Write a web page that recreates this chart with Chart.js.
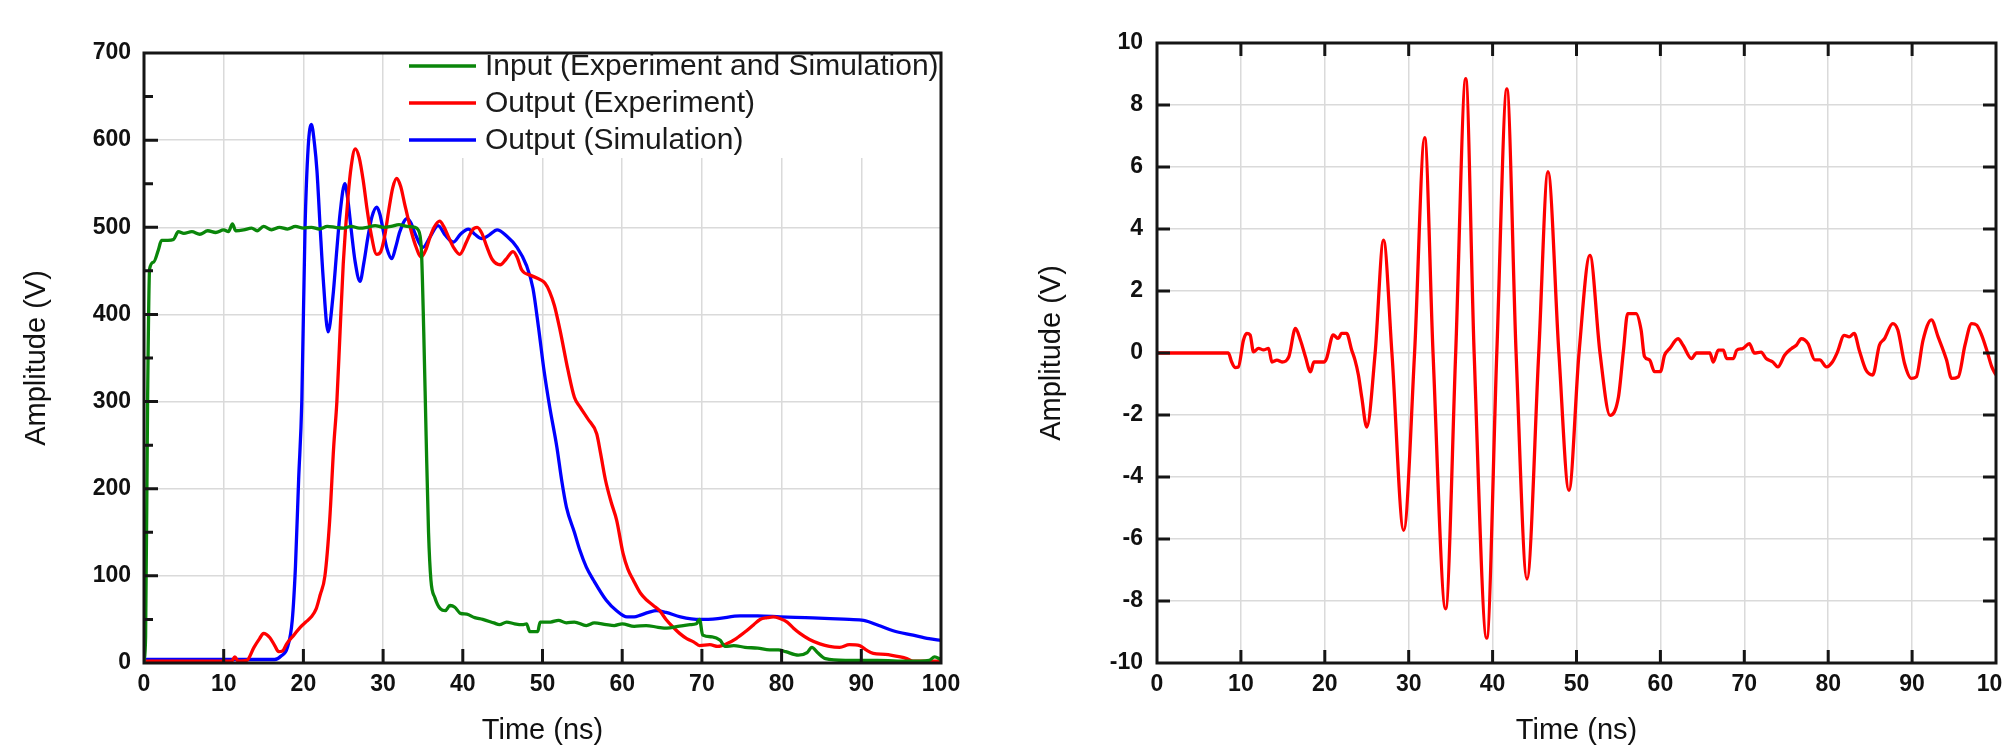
<!DOCTYPE html>
<html>
<head>
<meta charset="utf-8">
<script src="https://cdn.jsdelivr.net/npm/chart.js@4.4.1/dist/chart.umd.min.js"></script>
<style>
  html, body { margin: 0; padding: 0; background: #fff; overflow: hidden; }
  canvas { position: absolute; top: 0; }
  #left { left: 0; }
  #right { left: 1000px; }
</style>
</head>
<body>
<canvas id="left" width="1000" height="751"></canvas>
<canvas id="right" width="1002" height="751"></canvas>
<script>
// left panel: input pulse and output pulses
const inputTime = [0, 0.2, 0.45, 0.7, 1.2, 1.8, 2.2, 3.0, 3.7, 4.3, 5, 6, 7, 8, 9, 10, 10.6, 11.1, 11.5, 12.5,
  13.5, 14.2, 15, 16, 17, 18, 19, 20, 21, 22, 23, 24, 25, 26, 27, 28, 29, 30, 31, 32, 33, 34, 34.4, 34.8,
  35.1, 35.4, 35.7, 36.0, 36.5, 37.2, 37.8, 38.4, 39, 39.7, 40.5, 41.5, 42.5, 43.9, 44.6, 45.5, 46.5, 47.5,
  48.0, 48.4, 49.4, 49.7, 51, 52, 53, 54, 55.5, 56.5, 58, 59, 60, 61.5, 63, 64.5, 65.6, 67, 68.5, 69.3,
  69.7, 70.1, 71.3, 72.3, 72.9, 74, 75.4, 77, 78.5, 79.6, 80.5, 82.1, 83.2, 83.8, 84.5, 85.5, 88, 92, 96,
  98.5, 99.2, 100];
const inputAmp = [2, 30, 300, 452, 460, 474, 485, 485, 486, 495, 493, 495, 492, 496, 494, 497, 495, 504, 496, 497,
  499, 496, 501, 497, 500, 498, 501, 499, 500, 498, 501, 500, 499, 501, 499, 500, 502, 500, 501, 503, 501, 500, 497, 475,
  380, 260, 150, 95, 75, 62, 60, 66, 64, 57, 56, 52, 50, 46, 44, 47, 45, 44,
  45, 36, 36, 47, 47, 49, 46, 47, 43, 46, 44, 43, 45, 42, 43, 41, 40, 42, 44, 45,
  50, 32, 30, 26, 19, 20, 18, 17, 15, 15, 13, 9, 12, 18, 12, 5, 3, 3, 2,
  3, 7, 4];

const expTime = [0, 11, 11.4, 11.8, 12.9, 13.8, 14.5, 15.0, 15.8, 16.4, 16.9, 17.4, 17.9, 18.8, 19.6, 20.3, 21.0,
  21.6, 22.1, 22.7, 23.3, 23.8, 24.2, 24.6, 25.0, 25.6, 26.0, 26.5, 27.0, 27.5, 28.0, 28.4, 29.2, 29.7, 30.2,
  30.7, 31.2, 31.7, 32.2, 32.7, 33.4, 34.0, 34.8, 35.4, 35.9, 36.4, 37.1, 37.6, 38.2, 38.9, 39.6, 40.5, 41.2,
  41.8, 42.4, 43.0, 43.7, 44.7, 45.4, 46.3, 46.8, 47.4, 48.5, 49.7, 50.3, 50.9, 51.5, 52.2, 53.2, 54.0, 54.7,
  55.7, 56.8, 57.3, 57.9, 58.6, 59.3, 60.1, 60.7, 61.4, 62.3, 63.1, 63.9, 64.7, 65.5, 66.4, 67.2, 68.1, 69.0,
  69.7, 71, 72, 73.1, 74.3, 75.6, 76.5, 77.3, 78.2, 79, 79.8, 80.7, 81.5, 82.3, 83.5, 84.8, 86, 87.3, 88.5,
  89.8, 90.6, 91.5, 93, 94.9, 95.7, 96.5, 100];
const expAmp = [2, 2, 7, 2, 3, 18, 28, 34, 29, 20, 13, 14, 22, 32, 41, 47, 53,
  62, 78, 100, 164, 248, 300, 380, 458, 535, 570, 590, 580, 554, 520, 497, 469, 472, 490,
  519, 545, 556, 547, 527, 500, 481, 466, 475, 489, 500, 507, 501, 489, 476, 469, 484, 497,
  500, 493, 478, 463, 457, 463, 472, 466, 451, 445, 440, 436, 426, 410, 382, 336, 305, 294,
  280, 263, 240, 210, 185, 164, 126, 108, 95, 80, 72, 66, 60, 50, 41, 34, 28, 24,
  20, 21, 19, 22, 28, 37, 44, 50, 52, 53, 51, 47, 40, 34, 27, 22, 19, 18, 21,
  20, 15, 11, 10, 7, 5, 2, 2];

const simTime = [0, 10, 16.4, 17.2, 18.0, 18.6, 19.0, 19.4, 19.8, 20.2, 20.6, 21.0, 21.4, 21.7, 22.1, 22.5,
  23.1, 23.7, 24.2, 24.6, 25.2, 25.6, 26.0, 26.5, 27.1, 27.6, 28.1, 28.6, 29.2, 29.6, 30.0, 30.5, 31.1, 31.6,
  32.1, 33.0, 33.5, 34.0, 35.0, 35.9, 36.9, 37.8, 38.8, 39.7, 40.7, 41.5, 42.4, 43.3, 44.3, 45.5, 46.8, 48.0,
  48.8, 49.5, 50.2, 50.9, 51.8, 52.4, 53.0, 54.0, 54.7, 55.5, 56.4, 58.0, 59.3, 60.6, 61.5, 62.3, 63.3, 64.3,
  65.5, 67.3, 69.8, 72, 74.8, 77, 79.8, 83, 86.1, 88.5, 90.3, 92.2, 94, 96.5, 98.5, 100];
const simAmp = [4, 4, 4, 8, 18, 49, 110, 210, 300, 497, 592, 618, 595, 565, 500, 439,
  380, 420, 475, 516, 550, 530, 497, 460, 438, 460, 489, 512, 523, 515, 497, 475, 464, 478,
  495, 510, 505, 493, 477, 489, 502, 491, 483, 492, 498, 492, 487, 491, 497, 490, 477, 456,
  430, 385, 335, 294, 248, 210, 179, 150, 129, 110, 95, 72, 60, 53, 53, 55, 58, 60,
  58, 53, 50, 51, 54, 54, 53, 52, 51, 50, 49, 43, 37, 32, 28, 26];

// right panel: single output trace
const waveTime = [0, 8.5, 8.9, 9.3, 9.7, 10.3, 10.7, 11.1, 11.5, 12.1, 12.7, 13.3, 13.7, 14.3, 14.9, 15.7, 16.5,
  17.1, 17.7, 18.3, 18.7, 19.9, 20.2, 21.0, 21.6, 22.0, 22.6, 23.2, 23.6, 24.0, 24.4, 25.0, 26.0, 27.0, 28.0,
  29.4, 30.7, 31.9, 32.9, 34.4, 35.6, 36.8, 37.8, 39.3, 40.5, 41.7, 42.8, 44.1, 45.5, 46.6, 47.9, 49.1, 50.3,
  51.6, 52.8, 54.0, 55.0, 55.6, 56.1, 57.1, 57.7, 58.1, 58.7, 59.3, 60.0, 60.5, 61.1, 62.1, 62.7, 63.7, 64.3,
  65.9, 66.3, 66.9, 67.5, 67.9, 68.7, 69.1, 69.8, 70.6, 71.2, 72.0, 72.6, 73.4, 74.0, 74.8, 75.6, 76.2, 76.8,
  77.6, 78.4, 79.0, 79.8, 80.5, 81.1, 81.9, 82.5, 83.1, 83.7, 84.5, 85.3, 86.1, 86.7, 87.7, 88.3, 89.1, 89.9,
  90.5, 91.3, 92.3, 93.1, 94.1, 94.7, 95.5, 96.3, 97.1, 97.7, 98.3, 98.9, 99.5, 100];
const waveAmp = [0, 0, -0.29, -0.47, -0.45, 0.41, 0.63, 0.58, 0.04, 0.15, 0.1, 0.15, -0.29, -0.23, -0.29, -0.13, 0.79,
  0.41, -0.13, -0.61, -0.29, -0.29, -0.18, 0.58, 0.47, 0.63, 0.63, 0.1, -0.23, -0.7, -1.42, -2.39, 0, 3.64, 0,
  -5.72, 0, 6.95, 0, -8.25, 0, 8.85, 0, -9.2, 0, 8.52, 0, -7.29, 0, 5.85, 0, -4.43, 0,
  3.15, 0, -2.01, -1.42, 0.09, 1.27, 1.27, 0.74, -0.11, -0.22, -0.6, -0.6, -0.07, 0.14, 0.46, 0.25, -0.18, 0,
  0, -0.29, 0.09, 0.09, -0.18, -0.18, 0.09, 0.14, 0.3, 0, 0.03, -0.18, -0.29, -0.45, -0.07, 0.14, 0.25, 0.46,
  0.3, -0.22, -0.22, -0.45, -0.29, 0.03, 0.57, 0.52, 0.63, 0.09, -0.55, -0.71, 0.25, 0.46, 0.95, 0.74, -0.34, -0.82,
  -0.77, 0.41, 1.07, 0.52, -0.22, -0.82, -0.77, 0.25, 0.95, 0.9, 0.57, 0.09, -0.45, -0.71];

const FONT = "'Liberation Sans', Arial, sans-serif";
Chart.defaults.font.family = FONT;
Chart.defaults.color = "#111";

function pts(xs, ys) {
  return xs.map((x, i) => ({ x: x, y: ys[i] }));
}

// frame, inward tick marks and in-plot legend
const framePlugin = {
  id: "frame",
  beforeDatasetsDraw(chart, args, opts) {
    if (!opts.legend) return;
    const a = chart.chartArea;
    const ctx = chart.ctx;
    ctx.save();
    ctx.fillStyle = "#fff";
    ctx.fillRect(opts.legend.left, a.top, a.right - opts.legend.left, opts.legend.bottom - a.top);
    ctx.restore();
  },
  afterDatasetsDraw(chart, args, opts) {
    const ctx = chart.ctx;
    const a = chart.chartArea;
    const x = chart.scales.x;
    const y = chart.scales.y;
    ctx.save();

    if (opts.legend) {
      const lg = opts.legend;
      ctx.font = "30px " + FONT;
      ctx.textBaseline = "middle";
      ctx.fillStyle = "#1a1a1a";
      chart.data.datasets.forEach((ds, i) => {
        const yy = lg.firstRow + i * lg.rowGap;
        ctx.strokeStyle = ds.borderColor;
        ctx.lineWidth = 3.3;
        ctx.beginPath();
        ctx.moveTo(lg.lineX, yy);
        ctx.lineTo(lg.lineX + lg.lineLen, yy);
        ctx.stroke();
        ctx.fillText(ds.label, lg.textX, yy + 1);
      });
    }

    ctx.strokeStyle = "#151515";
    ctx.lineWidth = 3;
    ctx.beginPath();
    opts.xTicks.forEach(v => {
      const px = x.getPixelForValue(v);
      ctx.moveTo(px, a.bottom);
      ctx.lineTo(px, a.bottom - opts.len);
      if (opts.mirror) {
        ctx.moveTo(px, a.top);
        ctx.lineTo(px, a.top + opts.len);
      }
    });
    opts.yTicks.forEach(v => {
      const py = y.getPixelForValue(v);
      ctx.moveTo(a.left, py);
      ctx.lineTo(a.left + opts.len, py);
      if (opts.mirror) {
        ctx.moveTo(a.right, py);
        ctx.lineTo(a.right - opts.len, py);
      }
    });
    (opts.yMinor || []).forEach(v => {
      const py = y.getPixelForValue(v);
      ctx.moveTo(a.left, py);
      ctx.lineTo(a.left + opts.minorLen, py);
    });
    ctx.stroke();

    ctx.lineWidth = 3;
    ctx.strokeRect(a.left, a.top, a.right - a.left, a.bottom - a.top);
    ctx.restore();
  }
};

function axisX(titlePad) {
  return {
    type: "linear",
    min: 0,
    max: 100,
    ticks: { stepSize: 10, padding: 8, maxRotation: 0, color: "#111", font: { size: 23, weight: "bold" } },
    grid: { color: "#dadada", lineWidth: 1.5, drawTicks: false },
    border: { display: false },
    title: { display: true, text: "Time (ns)", color: "#111", font: { size: 29 }, padding: { top: 0, bottom: titlePad } },
    afterFit: s => { s.height = 88; s.paddingLeft = 0; s.paddingRight = 0; }
  };
}

function axisY(min, max, step, width, labelPad, titlePad) {
  return {
    min: min,
    max: max,
    ticks: { stepSize: step, padding: labelPad, color: "#111", font: { size: 23, weight: "bold" } },
    grid: { color: "#dadada", lineWidth: 1.5, drawTicks: false },
    border: { display: false },
    title: { display: true, text: "Amplitude (V)", color: "#111", font: { size: 29 }, padding: { top: titlePad, bottom: 0 } },
    afterFit: s => { s.width = width; s.paddingTop = 0; s.paddingBottom = 0; }
  };
}

new Chart(document.getElementById("left"), {
  type: "line",
  data: {
    datasets: [
      { label: "Input (Experiment and Simulation)", data: pts(inputTime, inputAmp), borderColor: "#0a860a", borderWidth: 3.3 },
      { label: "Output (Experiment)", data: pts(expTime, expAmp), borderColor: "#ff0000", borderWidth: 3.3 },
      { label: "Output (Simulation)", data: pts(simTime, simAmp), borderColor: "#0000ff", borderWidth: 3.3 }
    ]
  },
  options: {
    responsive: false,
    animation: false,
    layout: { padding: { left: 0, right: 59, top: 53, bottom: 0 } },
    elements: { point: { radius: 0 }, line: { cubicInterpolationMode: "monotone" } },
    plugins: {
      legend: { display: false },
      tooltip: { enabled: false },
      frame: {
        xTicks: [10, 20, 30, 40, 50, 60, 70, 80, 90],
        yTicks: [100, 200, 300, 400, 500, 600],
        yMinor: [50, 150, 250, 350, 450, 550, 650],
        len: 14,
        minorLen: 9,
        mirror: false,
        legend: { left: 400, bottom: 158, lineX: 409, lineLen: 67, textX: 485, firstRow: 66, rowGap: 37 }
      }
    },
    scales: {
      x: axisX(3),
      y: axisY(0, 700, 100, 144, 13, 20)
    }
  },
  plugins: [framePlugin]
});

new Chart(document.getElementById("right"), {
  type: "line",
  data: {
    datasets: [
      { label: "Output", data: pts(waveTime, waveAmp), borderColor: "#ff0000", borderWidth: 3.3 }
    ]
  },
  options: {
    responsive: false,
    animation: false,
    layout: { padding: { left: 0, right: 6, top: 43, bottom: 0 } },
    elements: { point: { radius: 0 }, line: { cubicInterpolationMode: "monotone" } },
    plugins: {
      legend: { display: false },
      tooltip: { enabled: false },
      frame: {
        xTicks: [10, 20, 30, 40, 50, 60, 70, 80, 90],
        yTicks: [-8, -6, -4, -2, 0, 2, 4, 6, 8],
        len: 13,
        mirror: true
      }
    },
    scales: {
      x: axisX(3),
      y: axisY(-10, 10, 2, 157, 14, 35)
    }
  },
  plugins: [framePlugin]
});
</script>
</body>
</html>
